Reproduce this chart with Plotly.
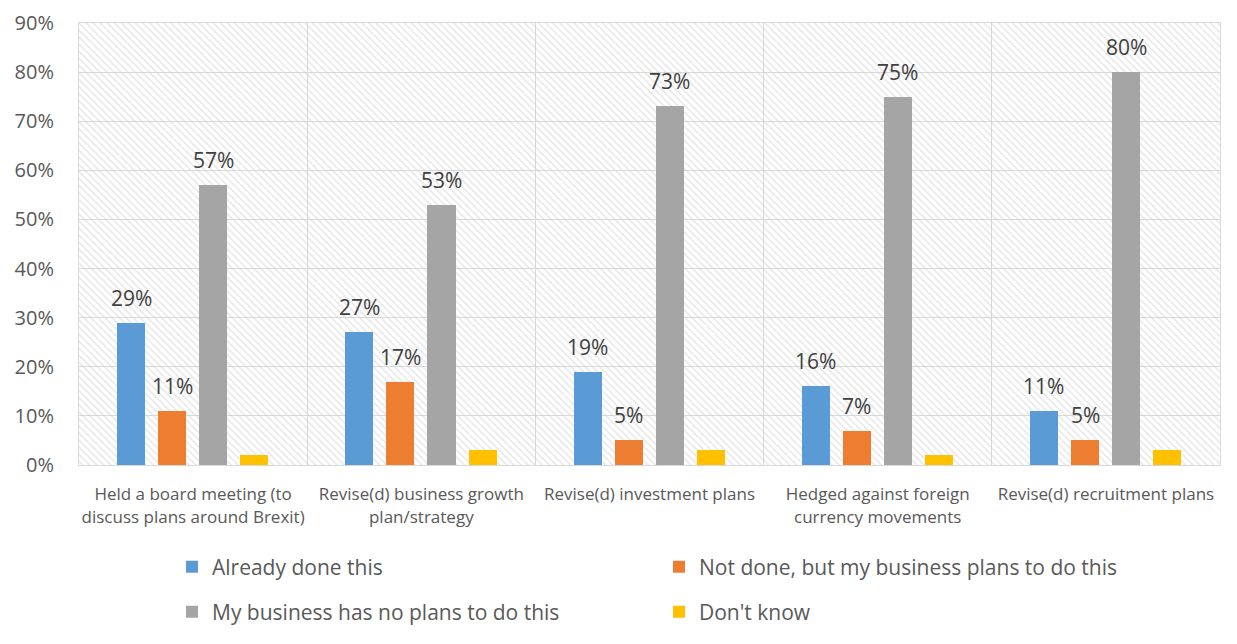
import plotly.graph_objects as go

categories = [
    "Held a board meeting (to<br>discuss plans around Brexit)",
    "Revise(d) business growth<br>plan/strategy",
    "Revise(d) investment plans",
    "Hedged against foreign<br>currency movements",
    "Revise(d) recruitment plans",
]
series_names = [
    "Already done this",
    "Not done, but my business plans to do this",
    "My business has no plans to do this",
    "Don't know",
]
already_done = [0.29, 0.27, 0.19, 0.16, 0.11]
plans_to_do = [0.11, 0.17, 0.05, 0.07, 0.05]
no_plans = [0.57, 0.53, 0.73, 0.75, 0.80]
dont_know = [0.02, 0.03, 0.03, 0.02, 0.03]
show_labels = [True, True, True, False]

series_values = [already_done, plans_to_do, no_plans, dont_know]
colors = ["#5B9BD5", "#ED7D31", "#A5A5A5", "#FFC000"]
legend_ids = ["legend", "legend", "legend2", "legend2"]

Y_MAX = 0.9
BAR_W = 0.123
STEP = 0.18
FIRST_OFF = -0.333
FONT = "Open Sans"
TXT = "#595959"

W, H = 1221, 628  # page body adds an 8px margin around the figure

fig = go.Figure()

# hatched plot background
fig.add_trace(go.Bar(
    x=categories, y=[Y_MAX] * len(categories), width=1, offset=-0.5,
    marker=dict(color="rgba(0,0,0,0)", line=dict(width=0),
                pattern=dict(shape="\\", fgcolor="#cfcfcf", size=5, solidity=0.3)),
    hoverinfo="skip", showlegend=False,
))

annotations = []
for i, (name, vals, col, lg, lab) in enumerate(zip(series_names, series_values, colors, legend_ids, show_labels)):
    off = FIRST_OFF + i * STEP
    fig.add_trace(go.Bar(
        x=categories, y=vals, name=name, width=BAR_W, offset=off,
        marker=dict(color=col, line=dict(width=0)), legend=lg,
    ))
    if lab:
        for j, v in enumerate(vals):
            annotations.append(dict(
                x=j + off + BAR_W / 2, y=v, xref="x", yref="y",
                text=f"{round(v * 100)}%", showarrow=False,
                yanchor="bottom", yshift=9,
                font=dict(family=FONT, size=21, color="#404040"),
            ))

legend_common = dict(
    orientation="h", xref="container", yref="container",
    xanchor="left", yanchor="middle",
    entrywidth=442, entrywidthmode="pixels",
    font=dict(family=FONT, size=21, color=TXT), bgcolor="rgba(0,0,0,0)",
)

fig.update_layout(
    width=W, height=H,
    barmode="overlay",
    paper_bgcolor="white", plot_bgcolor="white",
    margin=dict(l=71, r=9, t=15, b=171, autoexpand=False),
    font=dict(family=FONT, color=TXT),
    annotations=annotations,
    xaxis=dict(
        tickson="boundaries", showgrid=True, gridcolor="#d9d9d9", gridwidth=1,
        showline=True, linecolor="#d9d9d9", mirror=True, ticks="",
        tickangle=0, ticklabelstandoff=14,
        tickfont=dict(family=FONT, size=17, color=TXT),
        range=[-0.5, len(categories) - 0.5], automargin=False,
    ),
    yaxis=dict(
        range=[0, Y_MAX], dtick=0.1, tickformat=".0%",
        showgrid=True, gridcolor="#d9d9d9", gridwidth=1,
        showline=True, linecolor="#d9d9d9", mirror=True, zeroline=False,
        tickfont=dict(family=FONT, size=20, color=TXT),
        ticklabelstandoff=20, ticklabeloverflow="allow", automargin=False,
    ),
    legend=dict(legend_common, x=(172 - 8) / W, y=1 - (567 - 8) / H),
    legend2=dict(legend_common, x=(172 - 8) / W, y=1 - (612 - 8) / H),
    bargap=0,
)

fig.write_html("out.html")
